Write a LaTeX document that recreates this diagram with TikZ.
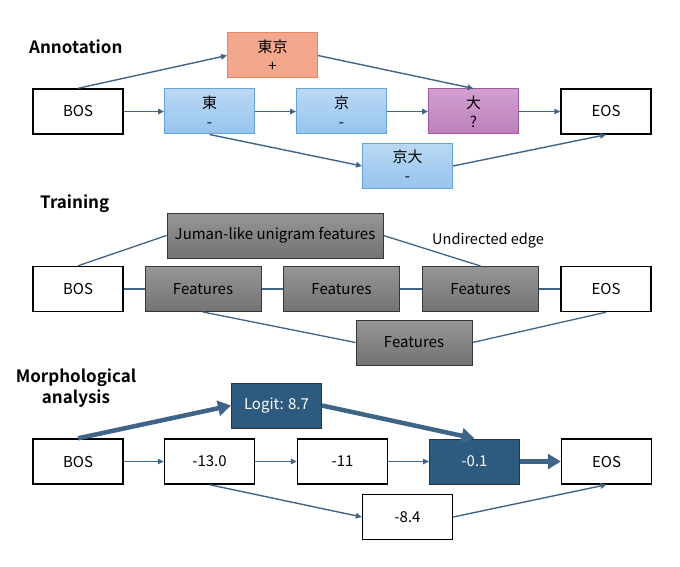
\documentclass[tikz,border=0pt]{standalone}
\usepackage{fontspec}
\setmainfont{Noto Sans CJK JP}[BoldFont={Noto Sans CJK JP Bold}]
\usetikzlibrary{arrows.meta}
\definecolor{arr}{RGB}{62,100,135}
\definecolor{orfill}{RGB}{243,168,141}
\definecolor{ordraw}{RGB}{228,135,98}
\definecolor{blfilltop}{RGB}{186,216,244}
\definecolor{blfillbot}{RGB}{150,196,238}
\definecolor{bldraw}{RGB}{104,164,220}
\definecolor{pufilltop}{RGB}{210,160,208}
\definecolor{pufillbot}{RGB}{188,128,186}
\definecolor{pudraw}{RGB}{160,90,160}
\definecolor{grfilltop}{RGB}{150,150,150}
\definecolor{grfillbot}{RGB}{115,115,115}
\definecolor{grdraw}{RGB}{55,55,55}
\definecolor{dkblue}{RGB}{45,90,127}
\tikzset{
  box/.style={draw, minimum width=90pt, minimum height=45pt, inner sep=0pt,
    align=center, font=\fontsize{15}{19}\selectfont, line width=1.4pt},
  wbox/.style={box, draw=black, fill=white},
  orbox/.style={box, draw=ordraw, fill=orfill, line width=1pt},
  blbox/.style={box, draw=bldraw, top color=blfilltop, bottom color=blfillbot, line width=1pt},
  pubox/.style={box, draw=pudraw, top color=pufilltop, bottom color=pufillbot, line width=1pt},
  grbox/.style={box, draw=grdraw, top color=grfilltop, bottom color=grfillbot, line width=1pt, minimum width=116pt},
  dbbox/.style={box, draw=black!80, fill=dkblue, text=white, line width=1pt},
  title/.style={font=\fontsize{17}{21}\selectfont\bfseries, inner sep=0pt, align=center},
  arrw/.style={draw=arr, line width=1.4pt, -{Triangle[length=6pt,width=5.5pt]}},
  edge/.style={draw=arr, line width=1.3pt},
  thick arrw/.style={draw=arr, line width=4.5pt, -{Triangle[length=13pt,width=15pt]}}
}
\begin{document}
\begin{tikzpicture}[x=1pt,y=-1pt]
\useasboundingbox (0,0) rectangle (680,567);
% ---------------- Annotation ----------------
\node[title, anchor=west] (t1) at (29,47) {Annotation};
\node[wbox]  (a0) at (78,111.5) {BOS};
\node[blbox] (a1) at (209.5,111.5) {東\\-};
\node[blbox] (a2) at (341.5,111.5) {京\\-};
\node[pubox] (a3) at (473.5,111.5) {大\\?};
\node[wbox]  (a4) at (606,111.5) {EOS};
\node[orbox] (a5) at (272.5,55.5) {東京\\+};
\node[blbox] (a6) at (407.5,166) {京大\\-};
\draw[arrw] (a0) -- (a1);
\draw[arrw] (a1) -- (a2);
\draw[arrw] (a2) -- (a3);
\draw[arrw] (a3) -- (a4);
\draw[arrw] (a0.north) -- (a5.west);
\draw[arrw] (a5.east) -- (a3.north);
\draw[arrw] (a1.south) -- (a6.west);
\draw[arrw] (a6.east) -- (a4.south);
% ---------------- Training ----------------
\node[title, anchor=west] (t2) at (40,204) {Training};
\node[wbox]  (b0) at (78,289) {BOS};
\node[grbox] (b1) at (203,289) {Features};
\node[grbox] (b2) at (341.5,289) {Features};
\node[grbox] (b3) at (480.5,289) {Features};
\node[wbox]  (b4) at (606,289) {EOS};
\node[grbox, minimum width=216pt] (b5) at (275,235.5) {Juman-like unigram features};
\node[grbox] (b6) at (414,342.5) {Features};
\node[font=\fontsize{14.5}{16}\selectfont, inner sep=0pt] (lab) at (488,241) {Undirected edge};
\draw[edge] (b0) -- (b1);
\draw[edge] (b1) -- (b2);
\draw[edge] (b2) -- (b3);
\draw[edge] (b3) -- (b4);
\draw[edge] (b0.north) -- (b5.west);
\draw[edge] (b5.east) -- (b3.north);
\draw[edge] (b1.south) -- (b6.west);
\draw[edge] (b6.east) -- (b4.south);
% ---------------- Morphological analysis ----------------
\node[title] (t3) at (76,388.5) {Morphological\\analysis};
\node[wbox]  (c0) at (78,461.5) {BOS};
\node[wbox]  (c1) at (209.5,461.5) {-13.0};
\node[wbox]  (c2) at (342.5,461.5) {-11};
\node[dbbox] (c3) at (474.5,461.5) {-0.1};
\node[wbox]  (c4) at (606.5,461.5) {EOS};
\node[dbbox] (c5) at (276.5,405.5) {Logit: 8.7};
\node[wbox]  (c6) at (407.5,517) {-8.4};
\draw[arrw] (c0) -- (c1);
\draw[arrw] (c1) -- (c2);
\draw[arrw] (c2) -- (c3);
\draw[thick arrw] (c3) -- (c4);
\draw[thick arrw] (c0.north) -- (c5.west);
\draw[thick arrw] (c5.east) -- (c3.north);
\draw[arrw] (c1.south) -- (c6.west);
\draw[arrw] (c6.east) -- (c4.south);
\end{tikzpicture}
\end{document}
